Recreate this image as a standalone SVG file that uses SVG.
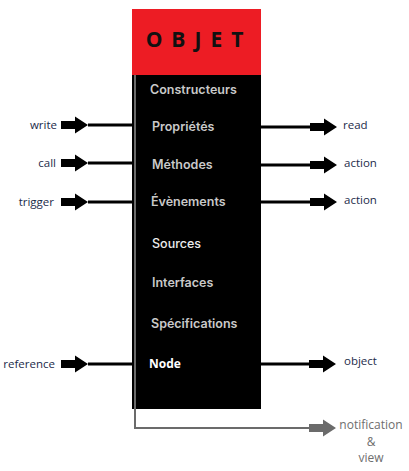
<svg xmlns="http://www.w3.org/2000/svg" xmlns:xlink="http://www.w3.org/1999/xlink" width="409" height="471" viewBox="0 0 409 471">
<style>
.item{font-family:Inter,Roboto,"Liberation Sans",sans-serif;font-weight:600;font-size:12.5px;fill:#c9c9c9}
.lbl{font-family:"Open Sans","DejaVu Sans",sans-serif;font-size:11.5px;fill:#1c2b4a}
.gl{font-family:"Open Sans","DejaVu Sans",sans-serif;font-size:12px;fill:#6e6e6e}
.ln{stroke:#000;stroke-width:3;fill:none}
</style>
<defs>
<path id="blk" d="M-27,-4 H-13 V-8.5 L0,0 L-13,8.5 V4 H-27 Z"/>
</defs>
<rect width="409" height="471" fill="#fff"/>
<g id="objet">
<rect x="132" y="9" width="129" height="66" fill="#ed1c24"/>
<rect x="132" y="75" width="129" height="334" fill="#000"/>
<text x="199" y="47" text-anchor="middle" font-family="'Open Sans','DejaVu Sans',sans-serif" font-weight="700" font-size="21" letter-spacing="9" fill="#111">OBJET</text>
<text class="item" x="150" y="94">Constructeurs</text>
<text class="item" x="152" y="131">Propriétés</text>
<text class="item" x="152" y="169">Méthodes</text>
<text class="item" x="151" y="206">Évènements</text>
<text class="item" x="152" y="248" style="fill:#ececec;font-weight:500">Sources</text>
<text class="item" x="152" y="287">Interfaces</text>
<text class="item" x="151" y="328">Spécifications</text>
<text x="149" y="368" font-family="'Open Sans','DejaVu Sans',sans-serif" font-weight="700" font-size="12" fill="#fff">Node</text>
</g>
<g id="connectors">
<path class="ln" d="M88,125 H134 M88,163 H134 M88,202 H134 M88,364 H134"/>
<path class="ln" d="M261,127 H312 M261,165 H312 M261,202 H312 M261,364 H312"/>
<use xlink:href="#blk" x="88" y="125"/>
<use xlink:href="#blk" x="88" y="163"/>
<use xlink:href="#blk" x="88" y="202"/>
<use xlink:href="#blk" x="88" y="364"/>
<use xlink:href="#blk" x="337" y="127"/>
<use xlink:href="#blk" x="337" y="165"/>
<use xlink:href="#blk" x="337" y="202"/>
<use xlink:href="#blk" x="336" y="364"/>
<path d="M135,75 V428 H312" stroke="#6b6b6b" stroke-width="2" fill="none"/>
<use xlink:href="#blk" x="336" y="428" fill="#6b6b6b"/>
</g>
<g id="labels">
<text class="lbl" x="57" y="129" text-anchor="end">write</text>
<text class="lbl" x="56" y="167" text-anchor="end">call</text>
<text class="lbl" x="54" y="206" text-anchor="end">trigger</text>
<text class="lbl" x="55" y="368" text-anchor="end">reference</text>
<text class="lbl" x="343" y="129">read</text>
<text class="lbl" x="344" y="167">action</text>
<text class="lbl" x="344" y="204">action</text>
<text class="lbl" x="344" y="365">object</text>
<text class="gl" x="371" y="429" text-anchor="middle">notification</text>
<text class="gl" x="371" y="445.5" text-anchor="middle">&amp;</text>
<text class="gl" x="371" y="462" text-anchor="middle">view</text>
</g>
</svg>
